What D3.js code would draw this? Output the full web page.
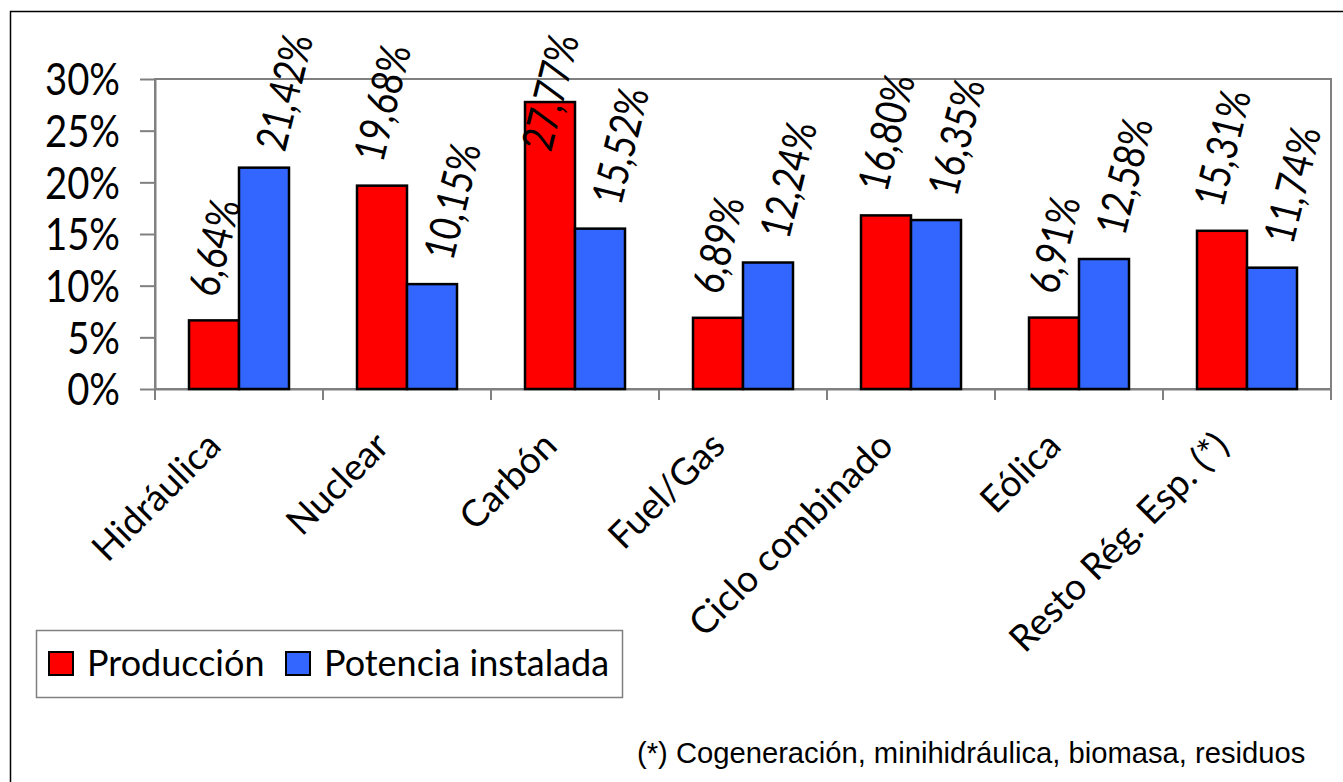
<!DOCTYPE html>
<html>
<head>
<meta charset="utf-8">
<script src="https://cdn.jsdelivr.net/npm/d3@7"></script>
<style>
  body { margin: 0; background: #fff; }
  svg { display: block; }
</style>
</head>
<body>
<div id="chart"></div>
<script>
// data
const categories = ["Hidráulica", "Nuclear", "Carbón", "Fuel/Gas", "Ciclo combinado", "Eólica", "Resto Rég. Esp. (*)"];
const seriesNames = ["Producción", "Potencia instalada"];
const produccion = [6.64, 19.68, 27.77, 6.89, 16.80, 6.91, 15.31];
const potencia = [21.42, 10.15, 15.52, 12.24, 16.35, 12.58, 11.74];
const yTicks = [0, 5, 10, 15, 20, 25, 30];
const colors = ["#ff0000", "#3366ff"];
const footnote = "(*) Cogeneración, minihidráulica, biomasa, residuos";

const W = 1343, H = 782;
const plot = { left: 155, right: 1331, top: 79, bottom: 389 };
const font = "Lato, 'Open Sans', sans-serif";
const squeeze = 0.87; // narrower glyphs, closer to the original Gill Sans

const svg = d3.select("#chart").append("svg")
  .attr("width", W)
  .attr("height", H);

// outer frame (runs off the right and bottom of the picture)
svg.append("rect")
  .attr("x", 10.5).attr("y", 11.5)
  .attr("width", 1400).attr("height", 900)
  .attr("fill", "none")
  .attr("stroke", "#000")
  .attr("stroke-width", 1.5);

const x0 = d3.scaleBand()
  .domain(categories)
  .range([plot.left, plot.right]);

const x1 = d3.scaleBand()
  .domain(seriesNames)
  .range([0, x0.bandwidth()])
  .paddingOuter(0.68)
  .paddingInner(0);

const y = d3.scaleLinear()
  .domain([0, 30])
  .range([plot.bottom, plot.top]);

// plot area border (grey top / right)
svg.append("rect")
  .attr("x", plot.left).attr("y", plot.top)
  .attr("width", plot.right - plot.left)
  .attr("height", plot.bottom - plot.top)
  .attr("fill", "none")
  .attr("stroke", "#808080")
  .attr("stroke-width", 2);

// y axis
const yAxis = svg.append("g")
  .attr("transform", `translate(${plot.left},0)`)
  .call(d3.axisLeft(y)
    .tickValues(yTicks)
    .tickFormat(d => d + "%")
    .tickSize(15)
    .tickSizeOuter(0)
    .tickPadding(19));
yAxis.select(".domain").attr("stroke", "#808080").attr("stroke-width", 2);
yAxis.selectAll(".tick line").attr("stroke", "#808080").attr("stroke-width", 2);
yAxis.selectAll("text")
  .attr("font-family", font)
  .attr("font-size", 44)
  .attr("fill", "#000")
  .attr("x", 0)
  .attr("dy", "0.36em")
  .attr("transform", `translate(-35,0) scale(${squeeze},1)`);

// x axis
const xAxis = svg.append("g")
  .attr("transform", `translate(0,${plot.bottom})`)
  .call(d3.axisBottom(x0).tickSize(0).tickSizeOuter(0).tickPadding(0));
xAxis.select(".domain").attr("stroke", "#808080").attr("stroke-width", 2);
xAxis.selectAll("text")
  .attr("font-family", font)
  .attr("font-size", 37)
  .attr("fill", "#000")
  .attr("x", 0).attr("y", 0).attr("dy", null)
  .attr("text-anchor", "end")
  .attr("transform", "translate(-16,59) rotate(-45)");

// tick marks at category boundaries
const bounds = categories.map(c => x0(c)).concat([x0.range()[1]]);
svg.append("g")
  .selectAll("line")
  .data(bounds)
  .join("line")
  .attr("x1", d => d).attr("x2", d => d)
  .attr("y1", plot.bottom).attr("y2", plot.bottom + 11)
  .attr("stroke", "#808080")
  .attr("stroke-width", 2);

// bars
const rows = categories.map((c, i) => ({
  cat: c,
  vals: [
    { key: seriesNames[0], v: produccion[i], ci: 0 },
    { key: seriesNames[1], v: potencia[i], ci: 1 }
  ]
}));

const groups = svg.append("g")
  .selectAll("g")
  .data(rows)
  .join("g")
  .attr("transform", d => `translate(${x0(d.cat)},0)`);

groups.selectAll("rect")
  .data(d => d.vals)
  .join("rect")
  .attr("x", d => x1(d.key))
  .attr("y", d => y(d.v))
  .attr("width", x1.bandwidth())
  .attr("height", d => y(0) - y(d.v))
  .attr("fill", d => colors[d.ci])
  .attr("stroke", "#000")
  .attr("stroke-width", 2.5);

// value labels, rotated, kept inside the chart top
const ang = 76, rad = ang * Math.PI / 180;
const cs = Math.cos(rad), sn = Math.sin(rad);
const labelSize = 43, labelSqueeze = 0.82;
const capH = labelSize * 0.72, gap = 22, topLimit = 31;
const labelShift = [0, 20]; // blue labels sit a bit right of their bar

groups.selectAll("text.val")
  .data(d => d.vals)
  .join("text")
  .attr("class", "val")
  .attr("font-family", font)
  .attr("font-size", labelSize)
  .attr("fill", "#000")
  .text(d => d.v.toFixed(2).replace(".", ",") + "%")
  .attr("transform", function (d) {
    const L = this.getComputedTextLength() * labelSqueeze;
    const cx = x1(d.key) + x1.bandwidth() / 2 + labelShift[d.ci];
    const ax = cx - (L * cs - capH * sn) / 2;
    const ay = Math.max(y(d.v) - gap, topLimit + L * sn + capH * cs);
    return `translate(${ax},${ay}) rotate(${-ang}) scale(${labelSqueeze},1)`;
  });

// legend
const leg = svg.append("g");
leg.append("rect")
  .attr("x", 36.5).attr("y", 630.5)
  .attr("width", 586).attr("height", 67)
  .attr("fill", "#fff")
  .attr("stroke", "#808080")
  .attr("stroke-width", 1.5);

const legX = [49, 286];
const legItems = leg.selectAll("g")
  .data(seriesNames)
  .join("g")
  .attr("transform", (d, i) => `translate(${legX[i]},652)`);
legItems.append("rect")
  .attr("width", 24).attr("height", 23)
  .attr("fill", (d, i) => colors[i])
  .attr("stroke", "#000")
  .attr("stroke-width", 2);
legItems.append("text")
  .attr("x", 38).attr("y", 24)
  .attr("font-family", font)
  .attr("font-size", 36)
  .attr("fill", "#000")
  .text(d => d);

// footnote
svg.append("text")
  .attr("x", 637).attr("y", 763)
  .attr("font-family", "'Liberation Sans', Arial, sans-serif")
  .attr("font-size", 29.2)
  .attr("fill", "#000")
  .text(footnote);
</script>
</body>
</html>
